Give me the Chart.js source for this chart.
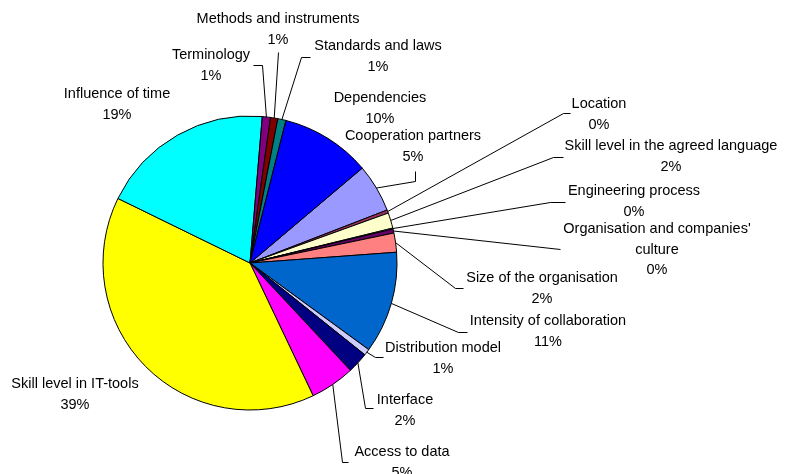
<!DOCTYPE html>
<html>
<head>
<meta charset="utf-8">
<script src="https://cdn.jsdelivr.net/npm/chart.js@4/dist/chart.umd.min.js"></script>
<style>
  html, body { margin: 0; padding: 0; background: #ffffff; }
  #wrap { width: 796px; height: 474px; position: relative; }
</style>
</head>
<body>
<div id="wrap"><canvas id="c" width="796" height="474"></canvas></div>
<script>
// ---- data ----
const categories = [
  "Cooperation partners",
  "Location",
  "Skill level in the agreed language",
  "Engineering process",
  "Organisation and companies'\nculture",
  "Size of the organisation",
  "Intensity of collaboration",
  "Distribution model",
  "Interface",
  "Access to data",
  "Skill level in IT-tools",
  "Influence of time",
  "Terminology",
  "Methods and instruments",
  "Standards and laws",
  "Dependencies"
];
const shares = [5.3, 0.35, 1.7, 0.1, 0.45, 2.1, 11.2, 0.7, 2.3, 4.9, 39.3, 19.1, 0.9, 0.8, 0.9, 9.9];
const percentLabels = shares.map(v => Math.round(v) + "%");

// ---- styles ----
const sliceColors = [
  "#9999FF", "#993366", "#FFFFCC", "#CCFFFF", "#660066", "#FF8080", "#0066CC", "#CCCCFF",
  "#000080", "#FF00FF", "#FFFF00", "#00FFFF", "#800080", "#800000", "#008080", "#0000FF"
];

// ---- label layout: text centre (x, first-line y) and leader elbow points ----
const labelLayout = [
  { x: 413, y: 136, leader: [[415, 171], [415, 181]] },
  { x: 599, y: 104, leader: [[570, 113], [563, 113]] },
  { x: 671, y: 146, leader: [[563, 157], [553, 157]] },
  { x: 634, y: 191, leader: [[565, 202], [550, 202]] },
  { x: 657, y: 229, leader: [[560, 249]] },
  { x: 542, y: 278, leader: [[463, 288], [455, 288]] },
  { x: 548, y: 321, leader: [[467, 332], [458, 332]] },
  { x: 443, y: 348, leader: [[383, 357], [375, 357]] },
  { x: 405, y: 400, leader: [[373, 408], [365, 408]] },
  { x: 402, y: 452, leader: [[348, 462], [342, 462]] },
  { x: 75,  y: 384, leader: [] },
  { x: 117, y: 94,  leader: [] },
  { x: 211, y: 55,  leader: [[253, 65], [262, 65]] },
  { x: 278, y: 19,  leader: [[278, 52]] },
  { x: 378, y: 46,  leader: [[310, 57], [301, 57]] },
  { x: 380, y: 98,  leader: [] }
];

const labelPlugin = {
  id: "sliceLabels",
  afterDatasetsDraw(chart) {
    const ctx = chart.ctx;
    const meta = chart.getDatasetMeta(0);
    ctx.save();
    ctx.strokeStyle = "#000000";
    ctx.lineWidth = 1;
    ctx.fillStyle = "#000000";
    ctx.font = "14.5px 'Liberation Sans', Arial, sans-serif";
    ctx.textAlign = "center";
    ctx.textBaseline = "middle";
    const lineH = 20.5;
    meta.data.forEach((arc, i) => {
      const p = arc.getProps(["x", "y", "startAngle", "endAngle", "outerRadius"], true);
      const mid = (p.startAngle + p.endAngle) / 2;
      const ex = p.x + Math.cos(mid) * p.outerRadius;
      const ey = p.y + Math.sin(mid) * p.outerRadius;
      const lay = labelLayout[i];
      if (lay.leader.length) {
        ctx.beginPath();
        ctx.moveTo(lay.leader[0][0] + 0.5, lay.leader[0][1] + 0.5);
        for (let k = 1; k < lay.leader.length; k++) ctx.lineTo(lay.leader[k][0] + 0.5, lay.leader[k][1] + 0.5);
        ctx.lineTo(ex, ey);
        ctx.stroke();
      }
      const lines = categories[i].split("\n").concat([percentLabels[i]]);
      lines.forEach((t, k) => ctx.fillText(t, lay.x, lay.y + k * lineH));
    });
    ctx.restore();
  }
};

new Chart(document.getElementById("c"), {
  type: "pie",
  data: {
    labels: categories,
    datasets: [{
      data: shares,
      backgroundColor: sliceColors,
      borderColor: "#000000",
      borderWidth: 1
    }]
  },
  options: {
    responsive: false,
    animation: false,
    rotation: 49.8,
    radius: 147,
    layout: { padding: { left: 0, right: 296, top: 52, bottom: 0 } },
    plugins: { legend: { display: false }, tooltip: { enabled: false } }
  },
  plugins: [labelPlugin]
});
</script>
</body>
</html>
